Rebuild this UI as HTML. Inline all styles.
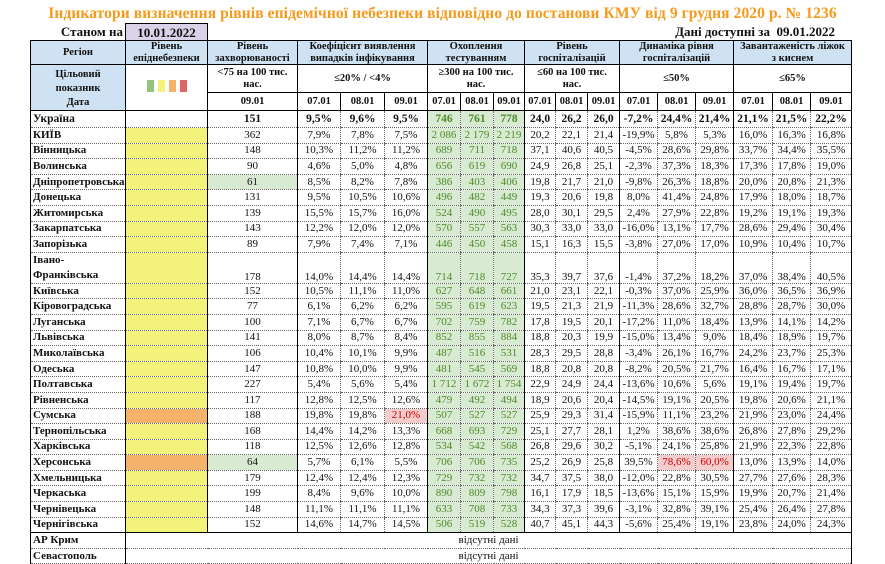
<!DOCTYPE html>
<html><head><meta charset="utf-8">
<style>
body{margin:0;width:885px;height:563px;background:#fff;overflow:hidden;font-family:"Liberation Serif","DejaVu Serif",serif;position:relative;color:#111}
.title{position:absolute;left:0;width:885px;top:5px;text-align:center;color:#f59a1a;font-weight:bold;font-size:15.5px;letter-spacing:0.1px}
.st{position:absolute;left:30px;top:23px;width:93px;text-align:right;font-weight:bold;font-size:13px;line-height:17px}
.dt{position:absolute;left:125px;top:23px;width:81px;height:16px;background:#d9d2e9;border:1px solid #000;border-bottom:none;text-align:center;font-weight:bold;font-size:13px;line-height:17px}
.av{position:absolute;left:600px;top:23px;width:235px;text-align:right;font-weight:bold;font-size:13px;line-height:17px}
table{position:absolute;left:30px;top:40px;border-collapse:collapse;table-layout:fixed;width:822px;font-size:11px}
td{padding:0;text-align:center;border-left:1px dotted #666;border-bottom:1px dotted #666;white-space:nowrap;overflow:hidden;line-height:11px}
.h td{font-weight:bold;border:1px solid #000;line-height:11.5px;font-size:10.5px}
.b{background:#cfe2f3}
td.r{text-align:left;font-weight:bold;padding-left:2px;border-left:1px solid #000}
td.s{border-left:1px solid #000}
.y{background:#f3f27a}.o{background:#f5b26b}
.g{background:#d9ead3;color:#4f8a2a}
.gz{background:#d9ead3}
.p{background:#f4cccc;color:#cc0000}
tr{height:15.6px}
.u td{font-weight:bold;font-size:11.5px}
td.last{border-right:1px solid #000}
.bb td{border-bottom:1px solid #000}
</style></head><body>
<div class="title">Індикатори визначення рівнів епідемічної небезпеки відповідно до постанови КМУ від 9 грудня 2020 р. № 1236</div>
<div class="st">Станом на</div>
<div class="dt">10.01.2022</div>
<div class="av">Дані доступні за &nbsp;09.01.2022</div>
<table>
<colgroup><col style="width:95px"><col style="width:82px"><col style="width:90px"><col style="width:43px"><col style="width:44px"><col style="width:43px"><col style="width:33px"><col style="width:33px"><col style="width:31px"><col style="width:31px"><col style="width:32px"><col style="width:32px"><col style="width:38px"><col style="width:38px"><col style="width:38px"><col style="width:39px"><col style="width:38px"><col style="width:41px"></colgroup>
<tr class="h b" style="height:24px"><td>Регіон</td><td>Рівень<br>епіднебезпеки</td><td>Рівень<br>захворюваності</td><td colspan="3">Коефіцієнт виявлення<br>випадків інфікування</td><td colspan="3">Охоплення<br>тестуванням</td><td colspan="3">Рівень<br>госпіталізацій</td><td colspan="3">Динаміка рівня<br>госпіталізацій</td><td colspan="3">Завантаженість ліжок<br>з киснем</td></tr>
<tr class="h" style="height:25px"><td class="b" rowspan="2" style="vertical-align:top;padding-top:3px;line-height:14px">Цільовий<br>показник<br>Дата</td><td rowspan="2"><span style="display:inline-block;width:7px;height:12px;background:#93c47d;margin:0 2px"></span><span style="display:inline-block;width:7px;height:12px;background:#f3f27a;margin:0 2px"></span><span style="display:inline-block;width:7px;height:12px;background:#f6b26b;margin:0 2px"></span><span style="display:inline-block;width:7px;height:12px;background:#e06666;margin:0 2px"></span></td><td>&lt;75 на 100 тис.<br>нас.</td><td colspan="3">≤20% / &lt;4%</td><td colspan="3">≥300 на 100 тис.<br>нас.</td><td colspan="3">≤60 на 100 тис.<br>нас.</td><td colspan="3">≤50%</td><td colspan="3">≤65%</td></tr>
<tr class="h" style="height:16px"><td>09.01</td><td>07.01</td><td>08.01</td><td>09.01</td><td>07.01</td><td>08.01</td><td>09.01</td><td>07.01</td><td>08.01</td><td>09.01</td><td>07.01</td><td>08.01</td><td>09.01</td><td>07.01</td><td>08.01</td><td>09.01</td></tr>
<tr class="u" style="height:17px"><td class="r">Україна</td><td class="s"></td><td class="s">151</td><td class="s">9,5%</td><td>9,6%</td><td>9,5%</td><td class="s g">746</td><td class="g">761</td><td class="g">778</td><td class="s">24,0</td><td>26,2</td><td>26,0</td><td class="s">-7,2%</td><td>24,4%</td><td>21,4%</td><td class="s">21,1%</td><td>21,5%</td><td class="last">22,2%</td></tr>
<tr><td class="r">КИЇВ</td><td class="s y"></td><td class="s">362</td><td class="s">7,9%</td><td>7,8%</td><td>7,5%</td><td class="s g">2 086</td><td class="g">2 179</td><td class="g">2 219</td><td class="s">20,2</td><td>22,1</td><td>21,4</td><td class="s">-19,9%</td><td>5,8%</td><td>5,3%</td><td class="s">16,0%</td><td>16,3%</td><td class="last">16,8%</td></tr>
<tr><td class="r">Вінницька</td><td class="s y"></td><td class="s">148</td><td class="s">10,3%</td><td>11,2%</td><td>11,2%</td><td class="s g">689</td><td class="g">711</td><td class="g">718</td><td class="s">37,1</td><td>40,6</td><td>40,5</td><td class="s">-4,5%</td><td>28,6%</td><td>29,8%</td><td class="s">33,7%</td><td>34,4%</td><td class="last">35,5%</td></tr>
<tr><td class="r">Волинська</td><td class="s y"></td><td class="s">90</td><td class="s">4,6%</td><td>5,0%</td><td>4,8%</td><td class="s g">656</td><td class="g">619</td><td class="g">690</td><td class="s">24,9</td><td>26,8</td><td>25,1</td><td class="s">-2,3%</td><td>37,3%</td><td>18,3%</td><td class="s">17,3%</td><td>17,8%</td><td class="last">19,0%</td></tr>
<tr><td class="r">Дніпропетровська</td><td class="s y"></td><td class="s gz">61</td><td class="s">8,5%</td><td>8,2%</td><td>7,8%</td><td class="s g">386</td><td class="g">403</td><td class="g">406</td><td class="s">19,8</td><td>21,7</td><td>21,0</td><td class="s">-9,8%</td><td>26,3%</td><td>18,8%</td><td class="s">20,0%</td><td>20,8%</td><td class="last">21,3%</td></tr>
<tr><td class="r">Донецька</td><td class="s y"></td><td class="s">131</td><td class="s">9,5%</td><td>10,5%</td><td>10,6%</td><td class="s g">496</td><td class="g">482</td><td class="g">449</td><td class="s">19,3</td><td>20,6</td><td>19,8</td><td class="s">8,0%</td><td>41,4%</td><td>24,8%</td><td class="s">17,9%</td><td>18,0%</td><td class="last">18,7%</td></tr>
<tr><td class="r">Житомирська</td><td class="s y"></td><td class="s">139</td><td class="s">15,5%</td><td>15,7%</td><td>16,0%</td><td class="s g">524</td><td class="g">490</td><td class="g">495</td><td class="s">28,0</td><td>30,1</td><td>29,5</td><td class="s">2,4%</td><td>27,9%</td><td>22,8%</td><td class="s">19,2%</td><td>19,1%</td><td class="last">19,3%</td></tr>
<tr><td class="r">Закарпатська</td><td class="s y"></td><td class="s">143</td><td class="s">12,2%</td><td>12,0%</td><td>12,0%</td><td class="s g">570</td><td class="g">557</td><td class="g">563</td><td class="s">30,3</td><td>33,0</td><td>33,0</td><td class="s">-16,0%</td><td>13,1%</td><td>17,7%</td><td class="s">28,6%</td><td>29,4%</td><td class="last">30,4%</td></tr>
<tr><td class="r">Запорізька</td><td class="s y"></td><td class="s">89</td><td class="s">7,9%</td><td>7,4%</td><td>7,1%</td><td class="s g">446</td><td class="g">450</td><td class="g">458</td><td class="s">15,1</td><td>16,3</td><td>15,5</td><td class="s">-3,8%</td><td>27,0%</td><td>17,0%</td><td class="s">10,9%</td><td>10,4%</td><td class="last">10,7%</td></tr>
<tr style="height:31px;vertical-align:bottom"><td class="r" style="line-height:15px">Івано-<br>Франківська</td><td class="s y"></td><td class="s">178</td><td class="s">14,0%</td><td>14,4%</td><td>14,4%</td><td class="s g">714</td><td class="g">718</td><td class="g">727</td><td class="s">35,3</td><td>39,7</td><td>37,6</td><td class="s">-1,4%</td><td>37,2%</td><td>18,2%</td><td class="s">37,0%</td><td>38,4%</td><td class="last">40,5%</td></tr>
<tr><td class="r">Київська</td><td class="s y"></td><td class="s">152</td><td class="s">10,5%</td><td>11,1%</td><td>11,0%</td><td class="s g">627</td><td class="g">648</td><td class="g">661</td><td class="s">21,0</td><td>23,1</td><td>22,1</td><td class="s">-0,3%</td><td>37,0%</td><td>25,9%</td><td class="s">36,0%</td><td>36,5%</td><td class="last">36,9%</td></tr>
<tr><td class="r">Кіровоградська</td><td class="s y"></td><td class="s">77</td><td class="s">6,1%</td><td>6,2%</td><td>6,2%</td><td class="s g">595</td><td class="g">619</td><td class="g">623</td><td class="s">19,5</td><td>21,3</td><td>21,9</td><td class="s">-11,3%</td><td>28,6%</td><td>32,7%</td><td class="s">28,8%</td><td>28,7%</td><td class="last">30,0%</td></tr>
<tr><td class="r">Луганська</td><td class="s y"></td><td class="s">100</td><td class="s">7,1%</td><td>6,7%</td><td>6,7%</td><td class="s g">702</td><td class="g">759</td><td class="g">782</td><td class="s">17,8</td><td>19,5</td><td>20,1</td><td class="s">-17,2%</td><td>11,0%</td><td>18,4%</td><td class="s">13,9%</td><td>14,1%</td><td class="last">14,2%</td></tr>
<tr><td class="r">Львівська</td><td class="s y"></td><td class="s">141</td><td class="s">8,0%</td><td>8,7%</td><td>8,4%</td><td class="s g">852</td><td class="g">855</td><td class="g">884</td><td class="s">18,8</td><td>20,3</td><td>19,9</td><td class="s">-15,0%</td><td>13,4%</td><td>9,0%</td><td class="s">18,4%</td><td>18,9%</td><td class="last">19,7%</td></tr>
<tr><td class="r">Миколаївська</td><td class="s y"></td><td class="s">106</td><td class="s">10,4%</td><td>10,1%</td><td>9,9%</td><td class="s g">487</td><td class="g">516</td><td class="g">531</td><td class="s">28,3</td><td>29,5</td><td>28,8</td><td class="s">-3,4%</td><td>26,1%</td><td>16,7%</td><td class="s">24,2%</td><td>23,7%</td><td class="last">25,3%</td></tr>
<tr><td class="r">Одеська</td><td class="s y"></td><td class="s">147</td><td class="s">10,8%</td><td>10,0%</td><td>9,9%</td><td class="s g">481</td><td class="g">545</td><td class="g">569</td><td class="s">18,8</td><td>20,8</td><td>20,8</td><td class="s">-8,2%</td><td>20,5%</td><td>21,7%</td><td class="s">16,4%</td><td>16,7%</td><td class="last">17,1%</td></tr>
<tr><td class="r">Полтавська</td><td class="s y"></td><td class="s">227</td><td class="s">5,4%</td><td>5,6%</td><td>5,4%</td><td class="s g">1 712</td><td class="g">1 672</td><td class="g">1 754</td><td class="s">22,9</td><td>24,9</td><td>24,4</td><td class="s">-13,6%</td><td>10,6%</td><td>5,6%</td><td class="s">19,1%</td><td>19,4%</td><td class="last">19,7%</td></tr>
<tr><td class="r">Рівненська</td><td class="s y"></td><td class="s">117</td><td class="s">12,8%</td><td>12,5%</td><td>12,6%</td><td class="s g">479</td><td class="g">492</td><td class="g">494</td><td class="s">18,9</td><td>20,6</td><td>20,4</td><td class="s">-14,5%</td><td>19,1%</td><td>20,5%</td><td class="s">19,8%</td><td>20,6%</td><td class="last">21,1%</td></tr>
<tr><td class="r">Сумська</td><td class="s o"></td><td class="s">188</td><td class="s">19,8%</td><td>19,8%</td><td class="p">21,0%</td><td class="s g">507</td><td class="g">527</td><td class="g">527</td><td class="s">25,9</td><td>29,3</td><td>31,4</td><td class="s">-15,9%</td><td>11,1%</td><td>23,2%</td><td class="s">21,9%</td><td>23,0%</td><td class="last">24,4%</td></tr>
<tr><td class="r">Тернопільська</td><td class="s y"></td><td class="s">168</td><td class="s">14,4%</td><td>14,2%</td><td>13,3%</td><td class="s g">668</td><td class="g">693</td><td class="g">729</td><td class="s">25,1</td><td>27,7</td><td>28,1</td><td class="s">1,2%</td><td>38,6%</td><td>38,6%</td><td class="s">26,8%</td><td>27,8%</td><td class="last">29,2%</td></tr>
<tr><td class="r">Харківська</td><td class="s y"></td><td class="s">118</td><td class="s">12,5%</td><td>12,6%</td><td>12,8%</td><td class="s g">534</td><td class="g">542</td><td class="g">568</td><td class="s">26,8</td><td>29,6</td><td>30,2</td><td class="s">-5,1%</td><td>24,1%</td><td>25,8%</td><td class="s">21,9%</td><td>22,3%</td><td class="last">22,8%</td></tr>
<tr><td class="r">Херсонська</td><td class="s o"></td><td class="s gz">64</td><td class="s">5,7%</td><td>6,1%</td><td>5,5%</td><td class="s g">706</td><td class="g">706</td><td class="g">735</td><td class="s">25,2</td><td>26,9</td><td>25,8</td><td class="s">39,5%</td><td class="p">78,6%</td><td class="p">60,0%</td><td class="s">13,0%</td><td>13,9%</td><td class="last">14,0%</td></tr>
<tr><td class="r">Хмельницька</td><td class="s y"></td><td class="s">179</td><td class="s">12,4%</td><td>12,4%</td><td>12,3%</td><td class="s g">729</td><td class="g">732</td><td class="g">732</td><td class="s">34,7</td><td>37,5</td><td>38,0</td><td class="s">-12,0%</td><td>22,8%</td><td>30,5%</td><td class="s">27,7%</td><td>27,6%</td><td class="last">28,3%</td></tr>
<tr><td class="r">Черкаська</td><td class="s y"></td><td class="s">199</td><td class="s">8,4%</td><td>9,6%</td><td>10,0%</td><td class="s g">890</td><td class="g">809</td><td class="g">798</td><td class="s">16,1</td><td>17,9</td><td>18,5</td><td class="s">-13,6%</td><td>15,1%</td><td>15,9%</td><td class="s">19,9%</td><td>20,7%</td><td class="last">21,4%</td></tr>
<tr><td class="r">Чернівецька</td><td class="s y"></td><td class="s">148</td><td class="s">11,1%</td><td>11,1%</td><td>11,1%</td><td class="s g">633</td><td class="g">708</td><td class="g">733</td><td class="s">34,3</td><td>37,3</td><td>39,6</td><td class="s">-3,1%</td><td>32,8%</td><td>39,1%</td><td class="s">25,4%</td><td>26,4%</td><td class="last">27,8%</td></tr>
<tr class="bb"><td class="r">Чернігівська</td><td class="s y"></td><td class="s">152</td><td class="s">14,6%</td><td>14,7%</td><td>14,5%</td><td class="s g">506</td><td class="g">519</td><td class="g">528</td><td class="s">40,7</td><td>45,1</td><td>44,3</td><td class="s">-5,6%</td><td>25,4%</td><td>19,1%</td><td class="s">23,8%</td><td>24,0%</td><td class="last">24,3%</td></tr>
<tr><td class="r">АР Крим</td><td class="s last" colspan="17">відсутні дані</td></tr>
<tr><td class="r">Севастополь</td><td class="s last" colspan="17">відсутні дані</td></tr>
</table>
</body></html>
